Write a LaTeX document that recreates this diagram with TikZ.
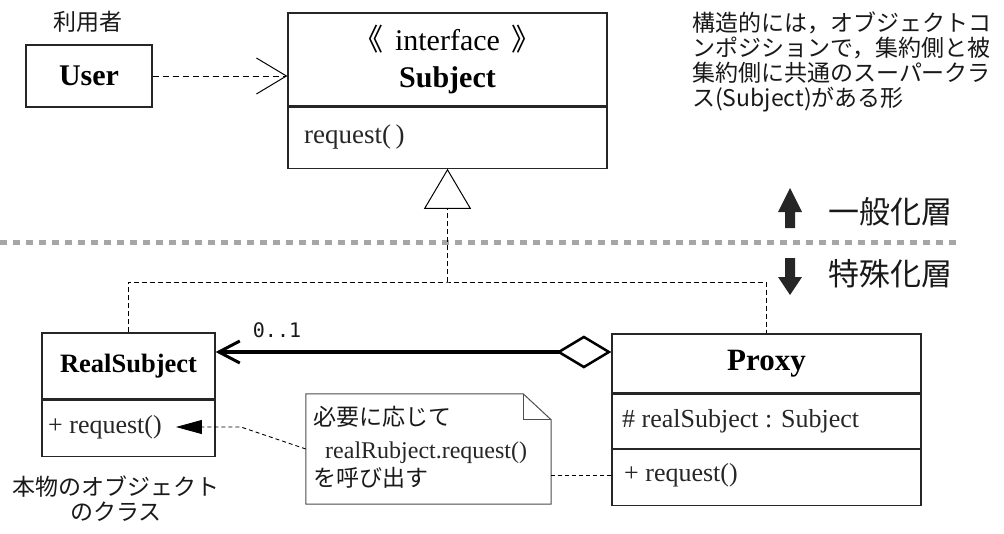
\documentclass[tikz,border=0pt]{standalone}
\usepackage{fontspec}
\setmainfont{Liberation Serif}
\newfontfamily\jpfont{Noto Sans CJK JP}
\newfontfamily\digitfont{DejaVu Sans Mono}
\usetikzlibrary{arrows.meta}

\begin{document}
\begin{tikzpicture}[x=1pt,y=-1pt,
    classbox/.style={draw=black!85,line width=1.2pt,inner sep=0pt},
    jptext/.style={font=\fontsize{23}{25}\selectfont\jpfont,text=black!90,inner sep=0pt},
    member/.style={font=\fontsize{26}{30}\selectfont,text=black!85,inner sep=0pt,anchor=west},
    depline/.style={line width=0.9pt,dash pattern=on 6pt off 4pt},
    layer/.style={font=\fontsize{31}{34}\selectfont\jpfont,text=black!90,inner sep=0pt}]
    \useasboundingbox (0,0) rectangle (1004,533);

    % layer separator
    \draw[black!35,line width=5pt,dash pattern=on 7pt off 6pt] (0,242) -- (962,242);
    \fill[black!85] (785,228) -- (785,212) -- (778,212) -- (790,188) -- (802,212) -- (795,212) -- (795,228) -- cycle;
    \fill[black!85] (785,258) -- (785,277) -- (778,277) -- (790,295) -- (802,277) -- (795,277) -- (795,258) -- cycle;
    \node[layer] (genlayer) at (890,212) {一般化層};
    \node[layer] (speclayer) at (890,274) {特殊化層};

    % user
    \node[classbox,minimum width=126pt,minimum height=62pt,font=\fontsize{30}{32}\selectfont\bfseries] (user) at (89,76) {User};
    \node[jptext] (userlabel) at (88,22) {利用者};

    % interface
    \node[classbox,minimum width=319pt,minimum height=93pt,align=center,font=\fontsize{30}{37}\selectfont] (subjhead) at (447.5,59.5) {{\jpfont 《}\hspace{12pt}interface\hspace{12pt}{\jpfont 》}\\\textbf{Subject}};
    \node[classbox,minimum width=319pt,minimum height=61pt,anchor=north] (subjops) at (subjhead.south) {};
    \node[member,font=\fontsize{27}{30}\selectfont] (subjreq) at (304,137) {request(\,)};

    % real subject
    \node[classbox,minimum width=173pt,minimum height=66pt,font=\fontsize{26.5}{30}\selectfont\bfseries] (realhead) at (128.5,366) {RealSubject};
    \node[classbox,minimum width=173pt,minimum height=56pt,anchor=north] (realops) at (realhead.south) {};
    \node[member] (realreq) at (48,427) {+ request()};
    \node[jptext,align=center] (reallabel) at (116,499) {本物のオブジェクト\\のクラス};

    % proxy
    \node[classbox,minimum width=309pt,minimum height=59pt,font=\fontsize{31}{34}\selectfont\bfseries] (proxyhead) at (766.5,363.5) {Proxy};
    \node[classbox,minimum width=309pt,minimum height=54pt,anchor=north] (proxyattr) at (proxyhead.south) {};
    \node[classbox,minimum width=309pt,minimum height=56pt,anchor=north] (proxyops) at (proxyattr.south) {};
    \node[member] (proxyfield) at (622,421) {\# realSubject : Subject};
    \node[member] (proxyreq) at (624,475) {+ request()};

    % note
    \node[minimum width=245pt,minimum height=110pt,inner sep=0pt] (note) at (428.5,449) {};
    \draw[black!70,line width=1pt,fill=white] (note.south west) -- (note.north west) -- ([xshift=-28pt]note.north east) -- ([yshift=-26pt]note.north east) -- (note.south east) -- cycle;
    \draw[black!70,line width=1pt] ([xshift=-28pt]note.north east) -- ++(0,26) -- ([yshift=-26pt]note.north east);
    \node[jptext,anchor=west] (notetop) at (313,417) {必要に応じて};
    \node[member,font=\fontsize{24}{26}\selectfont] (notecall) at (325,453) {realRubject.request()};
    \node[jptext,anchor=west] (notebottom) at (313,478) {を呼び出す};

    \node[jptext,anchor=north west,align=left] (remark) at (692,12) {構造的には，オブジェクトコ\\ンポジションで，集約側と被\\集約側に共通のスーパークラ\\ス(Subject)がある形};

    % connectors
    \draw[depline,-{Straight Barb[length=30pt,width=36pt,line width=1pt]}] (user.east) -- (user.east -| subjhead.west);

    \coordinate (hub) at (447.5,282);
    \draw[depline,dash pattern=on 5pt off 3pt] (realhead.north) |- (hub) -| (proxyhead.north);
    \draw[depline,dash pattern=on 5pt off 3pt,-{Triangle[open,length=40pt,width=47pt,line width=1pt]}] (hub) -- (subjops.south);

    \draw[line width=4pt,{Straight Barb[length=21pt,width=22pt,line width=3pt]}-{Diamond[open,length=55pt,width=33pt,line width=2.5pt]}] ([yshift=11.5pt]proxyhead.west -| realhead.east) -- ([yshift=11.5pt]proxyhead.west);
    \node[font=\fontsize{20}{22}\selectfont\digitfont,text=black!90,inner sep=0pt] (mult) at (277,330) {0..1};

    \coordinate (notebend) at ([xshift=79pt]realreq.east);
    \draw[depline,dash pattern=on 4pt off 3pt,-{Triangle[length=26pt,width=14pt]}] (note.west) -- (notebend) -- ([xshift=14pt]realreq.east);
    \draw[depline,dash pattern=on 4pt off 3pt] (note.east |- proxyreq) -- (proxyops.west |- proxyreq);
\end{tikzpicture}
\end{document}
